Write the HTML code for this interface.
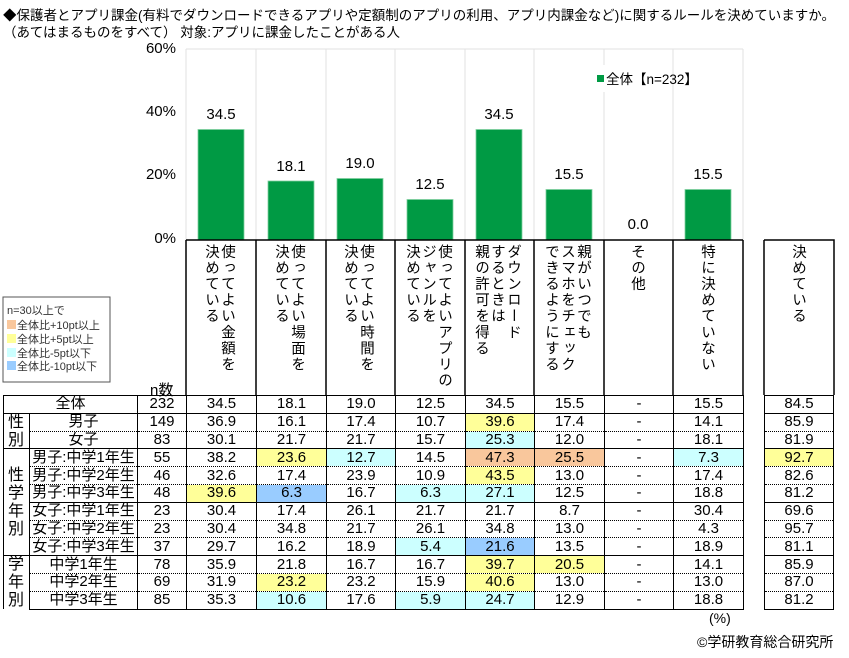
<!DOCTYPE html>
<html><head><meta charset="utf-8"><style>
*{margin:0;padding:0;box-sizing:border-box}
body{width:849px;height:658px;background:#fff;position:relative;overflow:hidden;font-family:"Liberation Sans","Noto Sans CJK JP",sans-serif;color:#000}
.a{position:absolute;white-space:nowrap}
.t{font-size:13.5px;left:3px}
.yl{font-size:15px;width:60px;text-align:right;left:116px}
.v{font-size:15px;width:70px;text-align:center}
.vt{position:absolute;top:244px;writing-mode:vertical-rl;font-size:14.5px;line-height:16px;letter-spacing:1.6px}
table{position:absolute;border-collapse:collapse;font-size:15px;table-layout:fixed}
tr{height:17.8px}
td{text-align:center;padding:0;height:17.8px;line-height:16px;border-left:1.5px solid #000;border-right:1.5px solid #000;overflow:hidden;white-space:nowrap}
tr.s td{border-top:1.5px solid #000}
tr.d td{border-top:1px dotted #000}
td.g{border-top:1.5px solid #000}
.o{background:#f9c79c}.y{background:#ffff99}.c{background:#ccffff}.b{background:#99ccff}
tr:last-child td{border-bottom:1.5px solid #000}
.gl{position:absolute;left:3px;width:26px;text-align:center;font-size:16px;line-height:18px;white-space:normal}
</style></head><body>
<div class="a t" style="top:4px">◆保護者とアプリ課金(有料でダウンロードできるアプリや定額制のアプリの利用、アプリ内課金など)に関するルールを決めていますか。</div>
<div class="a t" style="top:21px">（あてはまるものをすべて） 対象:アプリに課金したことがある人</div>

<svg class="a" style="left:0;top:0" width="849" height="400">
<g stroke="#e2e2e2" stroke-width="1">
<line x1="186" y1="49" x2="743" y2="49"/>
<line x1="186" y1="49" x2="186" y2="240"/><line x1="256" y1="49" x2="256" y2="240"/><line x1="326" y1="49" x2="326" y2="240"/><line x1="395" y1="49" x2="395" y2="240"/><line x1="465" y1="49" x2="465" y2="240"/><line x1="534" y1="49" x2="534" y2="240"/><line x1="604" y1="49" x2="604" y2="240"/><line x1="673" y1="49" x2="673" y2="240"/><line x1="743" y1="49" x2="743" y2="240"/>
</g>
<g fill="#009a44" stroke="#7fcf9f" stroke-width="0.8">
<rect x="198" y="129.5" width="46" height="110.5"/>
<rect x="268" y="181" width="46" height="59"/>
<rect x="337" y="178.5" width="46" height="61.5"/>
<rect x="407" y="199.5" width="46" height="40.5"/>
<rect x="476" y="129.5" width="46" height="110.5"/>
<rect x="546" y="189.5" width="46" height="50.5"/>
<rect x="685" y="189.5" width="46" height="50.5"/>
</g>
<rect x="592" y="65" width="80" height="27" fill="#fff"/>
<rect x="597" y="75" width="7" height="7" fill="#009a44"/>
<text x="606" y="84" font-size="13.5" font-family="Liberation Sans, Noto Sans CJK JP, sans-serif">全体【n=232】</text>
<g stroke="#000" stroke-width="1.5" fill="none">
<path d="M186 240H743M186 240V395M256 240V395M326 240V395M395 240V395M465 240V395M534 240V395M604 240V395M673 240V395M743 240V395"/>
<path d="M764 240H834V395M764 240V395"/>
</g>
<rect x="3" y="297" width="107" height="85" fill="#fff" stroke="#555" stroke-width="1"/>
<g font-size="11" fill="#333" font-family="Liberation Sans, Noto Sans CJK JP, sans-serif">
<text x="7" y="314">n=30以上で</text>
<rect x="7" y="320" width="9" height="9" fill="#f9c79c"/><text x="17" y="329">全体比+10pt以上</text>
<rect x="7" y="334" width="9" height="9" fill="#ffff99"/><text x="17" y="343">全体比+5pt以上</text>
<rect x="7" y="348" width="9" height="9" fill="#ccffff"/><text x="17" y="357">全体比-5pt以下</text>
<rect x="7" y="361" width="9" height="9" fill="#99ccff"/><text x="17" y="370">全体比-10pt以下</text>
</g>
</svg>

<div class="a yl" style="top:40px">60%</div>
<div class="a yl" style="top:103px">40%</div>
<div class="a yl" style="top:166px">20%</div>
<div class="a yl" style="top:230px">0%</div>

<div class="a v" style="left:186px;top:106px">34.5</div>
<div class="a v" style="left:256px;top:158px">18.1</div>
<div class="a v" style="left:325px;top:155px">19.0</div>
<div class="a v" style="left:395px;top:176px">12.5</div>
<div class="a v" style="left:464px;top:106px">34.5</div>
<div class="a v" style="left:534px;top:166px">15.5</div>
<div class="a v" style="left:603px;top:216px">0.0</div>
<div class="a v" style="left:673px;top:166px">15.5</div>

<div class="vt" style="left:203px">使ってよい金額を<br>決めている</div>
<div class="vt" style="left:273px">使ってよい場面を<br>決めている</div>
<div class="vt" style="left:342px">使ってよい時間を<br>決めている</div>
<div class="vt" style="left:404px">使ってよいアプリの<br>ジャンルを<br>決めている</div>
<div class="vt" style="left:473px">ダウンロード<br>するときは<br>親の許可を得る</div>
<div class="vt" style="left:543px">親がいつでも<br>スマホをチェック<br>できるようにする</div>
<div class="vt" style="left:629px">その他</div>
<div class="vt" style="left:699px">特に決めていない</div>
<div class="vt" style="left:790px">決めている</div>

<div class="a" style="left:150px;top:379px;font-size:15px">n数</div>

<table style="left:3px;top:395px;width:740px">
<colgroup><col style="width:26px"><col style="width:108px"><col style="width:49px"><col style="width:70px"><col style="width:70px"><col style="width:69px"><col style="width:70px"><col style="width:69px"><col style="width:70px"><col style="width:69px"><col style="width:70px"></colgroup>
<tr class="s"><td colspan="2">全体</td><td>232</td><td>34.5</td><td>18.1</td><td>19.0</td><td>12.5</td><td>34.5</td><td>15.5</td><td>-</td><td>15.5</td></tr>
<tr class="s"><td class="g" rowspan="2"></td><td>男子</td><td>149</td><td>36.9</td><td>16.1</td><td>17.4</td><td>10.7</td><td class="y">39.6</td><td>17.4</td><td>-</td><td>14.1</td></tr>
<tr class="d"><td>女子</td><td>83</td><td>30.1</td><td>21.7</td><td>21.7</td><td>15.7</td><td class="c">25.3</td><td>12.0</td><td>-</td><td>18.1</td></tr>
<tr class="s"><td class="g" rowspan="6"></td><td>男子:中学1年生</td><td>55</td><td>38.2</td><td class="y">23.6</td><td class="c">12.7</td><td>14.5</td><td class="o">47.3</td><td class="o">25.5</td><td>-</td><td class="c">7.3</td></tr>
<tr class="d"><td>男子:中学2年生</td><td>46</td><td>32.6</td><td>17.4</td><td>23.9</td><td>10.9</td><td class="y">43.5</td><td>13.0</td><td>-</td><td>17.4</td></tr>
<tr class="d"><td>男子:中学3年生</td><td>48</td><td class="y">39.6</td><td class="b">6.3</td><td>16.7</td><td class="c">6.3</td><td class="c">27.1</td><td>12.5</td><td>-</td><td>18.8</td></tr>
<tr class="s"><td>女子:中学1年生</td><td>23</td><td>30.4</td><td>17.4</td><td>26.1</td><td>21.7</td><td>21.7</td><td>8.7</td><td>-</td><td>30.4</td></tr>
<tr class="d"><td>女子:中学2年生</td><td>23</td><td>30.4</td><td>34.8</td><td>21.7</td><td>26.1</td><td>34.8</td><td>13.0</td><td>-</td><td>4.3</td></tr>
<tr class="d"><td>女子:中学3年生</td><td>37</td><td>29.7</td><td>16.2</td><td>18.9</td><td class="c">5.4</td><td class="b">21.6</td><td>13.5</td><td>-</td><td>18.9</td></tr>
<tr class="s"><td class="g" rowspan="3"></td><td>中学1年生</td><td>78</td><td>35.9</td><td>21.8</td><td>16.7</td><td>16.7</td><td class="y">39.7</td><td class="y">20.5</td><td>-</td><td>14.1</td></tr>
<tr class="d"><td>中学2年生</td><td>69</td><td>31.9</td><td class="y">23.2</td><td>23.2</td><td>15.9</td><td class="y">40.6</td><td>13.0</td><td>-</td><td>13.0</td></tr>
<tr class="d"><td>中学3年生</td><td>85</td><td>35.3</td><td class="c">10.6</td><td>17.6</td><td class="c">5.9</td><td class="c">24.7</td><td>12.9</td><td>-</td><td>18.8</td></tr>
</table>

<div class="gl" style="top:414px">性<br>別</div>
<div class="gl" style="top:467px">性<br>学<br>年<br>別</div>
<div class="gl" style="top:556px">学<br>年<br>別</div>

<table style="left:764px;top:395px;width:70px">
<tr class="s"><td>84.5</td></tr>
<tr class="s"><td>85.9</td></tr>
<tr class="d"><td>81.9</td></tr>
<tr class="s"><td class="y">92.7</td></tr>
<tr class="d"><td>82.6</td></tr>
<tr class="d"><td>81.2</td></tr>
<tr class="s"><td>69.6</td></tr>
<tr class="d"><td>95.7</td></tr>
<tr class="d"><td>81.1</td></tr>
<tr class="s"><td>85.9</td></tr>
<tr class="d"><td>87.0</td></tr>
<tr class="d"><td>81.2</td></tr>
</table>

<div class="a" style="left:709px;top:610px;font-size:14px">(%)</div>
<div class="a" style="left:697px;top:632px;font-size:14px">©学研教育総合研究所</div>
</body></html>
